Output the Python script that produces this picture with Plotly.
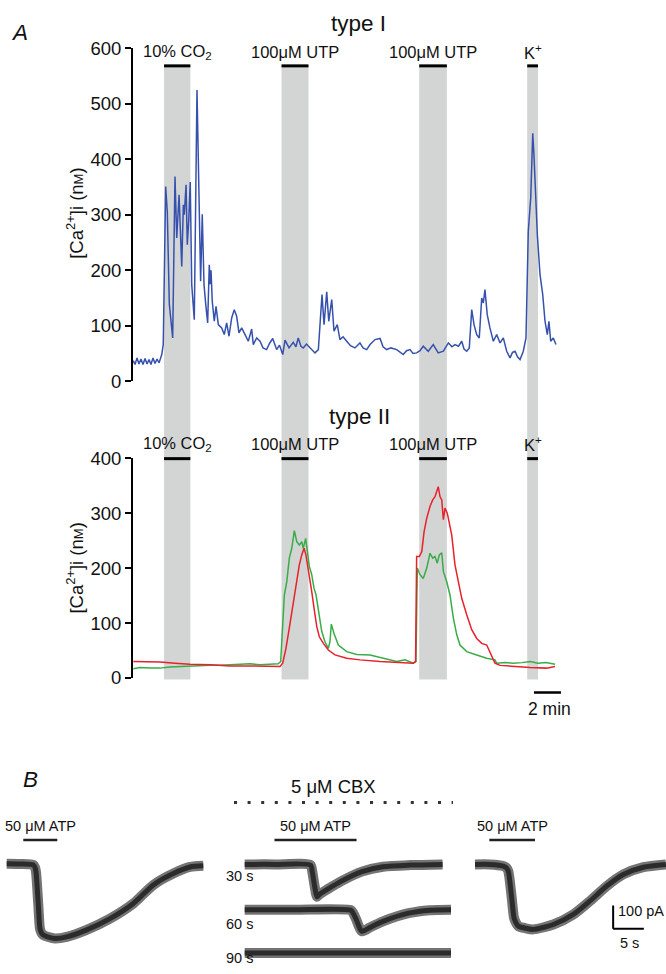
import plotly.graph_objects as go

W, H = 666, 974
FONT = "Liberation Sans, Arial, sans-serif"

# ---- panel A : stimulus periods (min) ----
stim_on = [2.3, 11.0, 21.2, 29.2]
stim_off = [4.25, 13.0, 23.25, 30.0]
stim_labels = ["10% CO<sub>2</sub>", "100μM UTP", "100μM UTP", "K<sup>+</sup>"]

# type I cell, [Ca2+]i (nM) vs time (min)
type1_t = [0.02, 0.15, 0.30, 0.44, 0.59, 0.74, 0.89, 1.04, 1.19, 1.33, 1.48, 1.63, 1.78, 1.93,
           2.13, 2.24, 2.42, 2.54, 2.69, 2.84, 2.94, 3.11, 3.24, 3.41, 3.61, 3.73, 3.80, 3.93,
           4.02, 4.13, 4.24, 4.35, 4.54, 4.74, 4.91, 5.01, 5.13, 5.26, 5.39, 5.53, 5.65, 5.72,
           5.78, 5.87, 6.02, 6.15, 6.32, 6.57, 6.76, 6.94, 7.11, 7.31, 7.50, 7.68, 7.85, 8.05,
           8.30, 8.54, 8.79, 8.91, 9.16, 9.41, 9.63, 9.90, 10.11, 10.35, 10.64, 10.85, 11.09,
           11.26, 11.56, 11.87, 12.07, 12.24, 12.44, 12.61, 12.85, 13.11, 13.30, 13.48, 13.73,
           13.85, 14.00, 14.15, 14.35, 14.50, 14.72, 14.89, 15.13, 15.33, 15.56, 15.83, 16.11,
           16.44, 16.81, 17.04, 17.31, 17.56, 17.93, 18.30, 18.52, 18.79, 19.11, 19.53, 19.78,
           20.02, 20.26, 20.52, 20.74, 21.01, 21.26, 21.50, 21.87, 22.24, 22.61, 22.99, 23.36,
           23.63, 23.85, 24.11, 24.35, 24.52, 24.72, 24.91, 25.09, 25.26, 25.46, 25.65, 25.83,
           25.95, 26.07, 26.24, 26.44, 26.69, 26.94, 27.19, 27.43, 27.68, 27.93, 28.11, 28.30,
           28.48, 28.67, 28.91, 29.11, 29.28, 29.46, 29.61, 29.70, 29.80, 29.95, 30.15, 30.35,
           30.52, 30.69, 30.81, 30.94, 31.13, 31.33]
type1_ca = [37, 30, 42, 31, 40, 30, 41, 31, 39, 30, 42, 32, 40, 33,
            48, 66, 351, 306, 139, 102, 78, 369, 258, 336, 207, 318, 300, 354,
            246, 290, 359, 174, 111, 525, 258, 180, 301, 174, 138, 105, 210, 175,
            200, 144, 108, 135, 102, 96, 84, 105, 81, 114, 129, 117, 87, 96,
            84, 72, 94, 66, 78, 72, 60, 57, 68, 77, 57, 65, 48,
            74, 60, 70, 62, 78, 63, 60, 67, 60, 55, 51, 57,
            102, 156, 102, 161, 108, 147, 90, 102, 75, 80, 72, 64,
            60, 69, 60, 57, 66, 75, 77, 62, 57, 60, 57, 52,
            48, 55, 57, 50, 51, 55, 63, 54, 66, 51, 54, 69,
            62, 66, 63, 72, 58, 54, 60, 129, 102, 84, 78, 150,
            141, 165, 120, 96, 72, 84, 69, 78, 54, 42, 52, 54,
            44, 39, 54, 78, 270, 330, 447, 408, 348, 264, 192, 156,
            108, 84, 108, 72, 78, 66]

# type II cells, [Ca2+]i (nM) vs time (min)
green_t = [0.02, 0.52, 1.26, 2.00, 2.74, 3.48, 4.22, 4.96, 5.70, 6.44, 7.19, 7.93, 8.67, 9.41,
           10.15, 10.76, 10.94, 11.09, 11.21, 11.39, 11.58, 11.76, 11.95, 12.13, 12.32, 12.50,
           12.61, 12.79, 12.91, 13.06, 13.24, 13.41, 13.56, 13.73, 13.98, 14.22, 14.47, 14.59,
           14.69, 14.89, 15.21, 15.83, 16.57, 17.56, 18.30, 19.53, 20.15, 20.76, 20.96, 21.06,
           21.26, 21.50, 21.76, 22.00, 22.20, 22.37, 22.54, 22.69, 22.87, 22.99, 23.24, 23.48,
           23.73, 23.98, 24.22, 24.72, 25.46, 26.20, 26.81, 26.94, 27.56, 28.17, 28.81, 29.41,
           30.00, 30.59, 31.26]
green_ca = [17, 19, 18, 18, 20, 21, 22, 22, 23, 23, 24, 24, 26, 24,
            25, 26, 30, 91, 151, 175, 218, 236, 268, 248, 242, 248,
            236, 254, 230, 203, 188, 163, 151, 121, 85, 66, 54, 66,
            98, 81, 60, 48, 43, 42, 37, 30, 33, 27, 30, 200,
            188, 181, 200, 227, 218, 221, 209, 224, 228, 194, 175, 151,
            109, 79, 60, 48, 42, 36, 33, 27, 28, 27, 28, 30,
            27, 28, 25]

red_t = [0.02, 0.89, 2.00, 3.11, 4.22, 5.70, 7.19, 8.67, 10.15, 10.89, 11.09, 11.33, 11.58,
         11.76, 11.93, 12.13, 12.32, 12.50, 12.67, 12.81, 12.94, 13.11, 13.24, 13.41, 13.61,
         13.80, 14.10, 14.47, 14.96, 15.83, 16.81, 18.30, 19.78, 20.76, 20.93, 21.01, 21.21,
         21.39, 21.56, 21.76, 22.00, 22.20, 22.37, 22.50, 22.61, 22.74, 22.87, 22.99, 23.11,
         23.28, 23.48, 23.61, 23.85, 24.10, 24.35, 24.72, 25.09, 25.46, 25.83, 26.20, 26.44,
         26.81, 27.19, 28.17, 29.41, 30.64, 31.26]
red_ca = [30, 30, 29, 27, 25, 24, 22, 22, 21, 21, 27, 54, 91,
          121, 145, 181, 206, 224, 236, 224, 206, 181, 157, 127, 94,
          75, 63, 51, 42, 36, 33, 30, 28, 27, 30, 221, 221,
          230, 266, 291, 312, 324, 330, 339, 348, 330, 324, 288, 309,
          300, 272, 260, 206, 175, 145, 115, 88, 72, 63, 60, 48,
          27, 23, 21, 19, 18, 21]

# ---- panel B : whole-cell currents (time s, current pA) ----
atp_on = [2.7, 4.85, 2.33]
atp_off = [8.24, 18.22, 9.77]

ctrl_t = [0, 2.17, 4.33, 4.6, 4.77, 5.15, 5.42, 5.7, 5.96, 6.8, 7.87, 9.77, 13.03, 16.82,
          20.62, 23.88, 27.13, 29.85, 32.02]
ctrl_pA = [3, 2, -2, -12, -32, -174, -276, -296, -303, -312, -318, -311, -281, -233,
           -168, -88, -39, -11, -6]

cbx30_t = [0, 5.0, 10.73, 11.0, 11.4, 11.78, 12.2, 13.4, 15.59, 19.06, 22.52, 27.0, 32.23]
cbx30_pA = [0, 0, -3, -30, -95, -139, -128, -108, -74, -31, -10, -3, 0]
cbx60_t = [0, 8.0, 17.31, 17.6, 18.13, 18.7, 19.06, 19.6, 20.5, 22.52, 26.68, 30.15, 33.6]
cbx60_pA = [0, 0, -2, -12, -40, -78, -93, -88, -75, -50, -15, -2, 0]
cbx90_t = [0, 33.6]
cbx90_pA = [0, 0]

wash_t = [0, 2.44, 4.61, 5.1, 5.42, 5.98, 6.35, 6.7, 7.05, 8.2, 9.5, 12.75, 16.0, 18.73,
          21.45, 24.15, 27.41, 31.1]
wash_pA = [0, 0, -7, -14, -29, -144, -229, -252, -265, -274, -279, -258, -215, -157,
           -93, -43, -12, 0]


# the photographed page comes out shifted down ~9px and squeezed ~2% vertically,
# so reference rows are mapped back onto figure rows here
def fy(p):
    return (p - 9.1) / 0.979


def Y(p):
    return 1 - fy(p) / H


def xdom(p0, p1):
    return [p0 / W, p1 / W]


def ydom(ptop, pbot):
    return [max(0, Y(pbot)), min(1, Y(ptop))]


def ann(text, x, y, size, xref="paper", yref="paper", **kw):
    if xref == "paper":
        x = x / W
    if yref == "paper":
        y = Y(y)
    d = dict(text=text, x=x, y=y, xref=xref, yref=yref, showarrow=False,
             font=dict(size=size, family=FONT, color="#111111"),
             xanchor="center", yanchor="middle")
    d.update(kw)
    return d


fig = go.Figure()

# panel A traces
fig.add_trace(go.Scatter(x=type1_t, y=type1_ca, mode="lines", line=dict(color="#3651ad", width=1.5),
                         xaxis="x", yaxis="y"))
fig.add_trace(go.Scatter(x=green_t, y=green_ca, mode="lines", line=dict(color="#38ad47", width=1.5),
                         xaxis="x2", yaxis="y2"))
fig.add_trace(go.Scatter(x=red_t, y=red_ca, mode="lines", line=dict(color="#e8212b", width=1.5),
                         xaxis="x2", yaxis="y2"))

# panel B traces: a soft wide band for the recording noise, with a darker core
sweeps = [(ctrl_t, ctrl_pA, "x3", "y3"), (cbx30_t, cbx30_pA, "x4", "y3"),
          (cbx60_t, cbx60_pA, "x4", "y4"), (cbx90_t, cbx90_pA, "x4", "y5"),
          (wash_t, wash_pA, "x5", "y3")]
for t, i, xa, ya in sweeps:
    fig.add_trace(go.Scatter(x=t, y=i, xaxis=xa, yaxis=ya, mode="lines",
                             line=dict(color="rgba(70,70,70,0.75)", width=10, shape="spline", smoothing=0.7)))
    fig.add_trace(go.Scatter(x=t, y=i, xaxis=xa, yaxis=ya, mode="lines",
                             line=dict(color="rgba(35,35,35,0.9)", width=5, shape="spline", smoothing=0.7)))

shapes = []
annotations = []

# gray stimulus bands running through both type I and type II panels
for on, off in zip(stim_on, stim_off):
    shapes.append(dict(type="rect", xref="x", yref="paper", x0=on, x1=off,
                       y0=Y(678), y1=Y(64), fillcolor="#d3d5d5",
                       line=dict(width=0), layer="below"))
    for yb in (64, 457):
        shapes.append(dict(type="line", xref="x", yref="paper", x0=on, x1=off,
                           y0=Y(yb), y1=Y(yb), line=dict(color="black", width=3)))

for on, off, lab in zip(stim_on, stim_off, stim_labels):
    for yl in (50, 442):
        annotations.append(ann(lab, (on + off) / 2, yl, 16.5, xref="x"))

annotations.append(ann("<i>A</i>", 19, 31, 22.5))
annotations.append(ann("type I", 358, 22, 22.5))
annotations.append(ann("type II", 359, 415, 22.5))
ytitle = "[Ca<sup>2+</sup>]i (n<span style='font-size:13px'>M</span>)"
annotations.append(ann(ytitle, 75, 212, 18.5, textangle=-90))
annotations.append(ann(ytitle, 75, 567, 18.5, textangle=-90))

# 2 min scale bar
shapes.append(dict(type="line", xref="x2", yref="paper", x0=29.7, x1=31.7,
                   y0=Y(691), y1=Y(691), line=dict(color="black", width=2.5)))
annotations.append(ann("2 min", 549, 707, 17.5))

# panel B labels
annotations.append(ann("<i>B</i>", 30, 778, 22.5))
annotations.append(ann("5 μM CBX", 333, 785, 18.5))
shapes.append(dict(type="line", xref="paper", yref="paper", x0=234 / W, x1=453 / W,
                   y0=Y(801), y1=Y(801),
                   line=dict(color="#333333", width=3, dash="3px,10.6px")))
for xa, on, off in zip(["x3", "x4", "x5"], atp_on, atp_off):
    shapes.append(dict(type="line", xref=xa, yref="paper", x0=on, x1=off,
                       y0=Y(838.5), y1=Y(838.5), line=dict(color="#222222", width=2.5)))
    annotations.append(ann("50 μM ATP", (on + off) / 2, 825, 14.5, xref=xa))
for lab, yl in zip(["30 s", "60 s", "90 s"], [875, 923, 957]):
    annotations.append(ann(lab, 239, yl, 14.5))

# 100 pA / 5 s scale bar
shapes.append(dict(type="line", xref="x5", yref="y3", x0=22.5, x1=22.5, y0=-276, y1=-176,
                   line=dict(color="black", width=2)))
shapes.append(dict(type="line", xref="x5", yref="y3", x0=22.5, x1=27.5, y0=-276, y1=-276,
                   line=dict(color="black", width=2)))
annotations.append(ann("100 pA", 23.0, -200, 14.5, xref="x5", yref="y3", xanchor="left"))
annotations.append(ann("5 s", 25.1, -336, 14.5, xref="x5", yref="y3"))

yax = dict(showline=True, linecolor="black", linewidth=2, ticks="outside", ticklen=6,
           tickwidth=2, tickcolor="black", showgrid=False, zeroline=False, dtick=100,
           tickfont=dict(size=18.5, family=FONT, color="#111111"))
hidden = dict(visible=False, showgrid=False, zeroline=False)

BT, BI = 6.14, 0.233  # px per s, px per pA in panel B (reference pixels)
B_TOP, B_BOT = 800, 962


def brange_y(base):
    return [-(B_BOT - base) / BI, (base - B_TOP) / BI]


fig.update_layout(
    width=W, height=H, margin=dict(l=0, r=0, t=0, b=0),
    paper_bgcolor="white", plot_bgcolor="rgba(0,0,0,0)", showlegend=False,
    font=dict(family=FONT, color="black"),
    xaxis=dict(domain=xdom(133, 565), range=[0, 32], anchor="y", **hidden),
    yaxis=dict(domain=ydom(46.5, 379.5), range=[0, 600], anchor="x", **yax),
    xaxis2=dict(domain=xdom(133, 565), range=[0, 32], anchor="y2", **hidden),
    yaxis2=dict(domain=ydom(456.5, 676.5), range=[0, 400], anchor="x2", **yax),
    xaxis3=dict(domain=xdom(0, 228), range=[-6.7 / BT, (228 - 6.7) / BT], anchor="y3", **hidden),
    xaxis4=dict(domain=xdom(230, 462), range=[(230 - 244.7) / BT, (462 - 244.7) / BT], anchor="y3", **hidden),
    xaxis5=dict(domain=xdom(466, 666), range=[(466 - 475) / BT, (666 - 475) / BT], anchor="y3", **hidden),
    yaxis3=dict(domain=ydom(B_TOP, B_BOT), range=brange_y(863), anchor="x3", **hidden),
    yaxis4=dict(domain=ydom(B_TOP, B_BOT), range=brange_y(908.3), anchor="x4", **hidden),
    yaxis5=dict(domain=ydom(B_TOP, B_BOT), range=brange_y(951.7), anchor="x4", **hidden),
    shapes=shapes, annotations=annotations,
)

fig.write_html("out.html", config={"displayModeBar": False},
               post_script="document.body.style.margin='0';document.documentElement.style.overflow='hidden';")
